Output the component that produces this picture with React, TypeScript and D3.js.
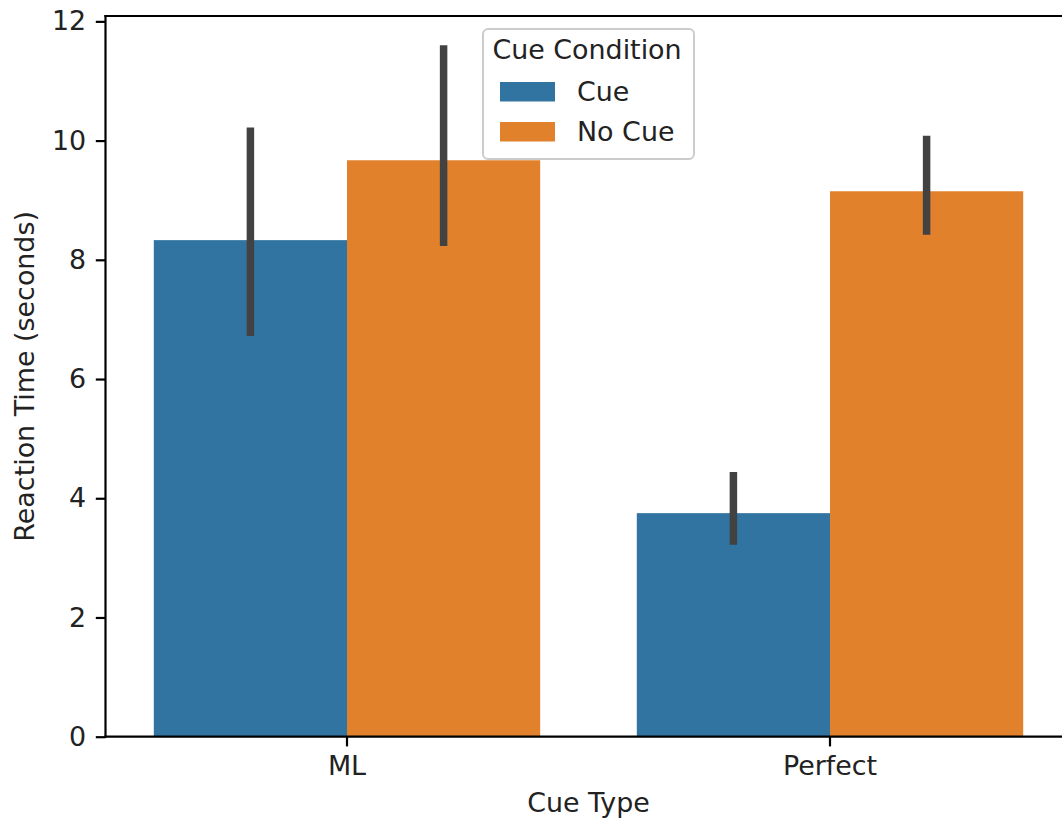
import React, { useEffect, useRef } from 'react';
import * as d3 from 'd3';

// data
const cueTypes = ['ML', 'Perfect'];
const cueConditions = ['Cue', 'No Cue'];
const meanCue = [8.33, 3.75];
const meanNoCue = [9.67, 9.15];
const ciLowCue = [6.72, 3.22];
const ciHighCue = [10.22, 4.44];
const ciLowNoCue = [8.23, 8.42];
const ciHighNoCue = [11.6, 10.08];
const yTicks = [0, 2, 4, 6, 8, 10, 12];

const colors = ['#3274a1', '#e1812c'];
const font = '"DejaVu Sans", sans-serif';

export default function App() {
	const ref = useRef<SVGSVGElement | null>(null);

	useEffect(() => {
		const width = 1062,
			height = 819;
		const margin = { top: 16, left: 105.5, right: 1071.5, bottom: 736.7 };

		const svg = d3.select(ref.current).attr('width', width).attr('height', height);
		svg.selectAll('*').remove();

		const rows = cueTypes.map((t, i) => ({
			type: t,
			values: [
				{ cond: cueConditions[0], mean: meanCue[i], lo: ciLowCue[i], hi: ciHighCue[i] },
				{ cond: cueConditions[1], mean: meanNoCue[i], lo: ciLowNoCue[i], hi: ciHighNoCue[i] },
			],
		}));

		const x = d3
			.scaleBand()
			.domain(cueTypes)
			.range([margin.left, margin.right])
			.paddingInner(0.2)
			.paddingOuter(0.1);
		const xHue = d3.scaleBand().domain(cueConditions).range([0, x.bandwidth()]);
		const y = d3.scaleLinear().domain([0, 12.09]).range([margin.bottom, margin.top]);
		const color = d3.scaleOrdinal<string>().domain(cueConditions).range(colors);

		// bars
		const groups = svg
			.append('g')
			.selectAll('g')
			.data(rows)
			.join('g')
			.attr('transform', (d) => `translate(${x(d.type)},0)`);

		groups
			.selectAll('rect')
			.data((d) => d.values)
			.join('rect')
			.attr('x', (d) => xHue(d.cond)!)
			.attr('width', xHue.bandwidth())
			.attr('y', (d) => y(d.mean))
			.attr('height', (d) => y(0) - y(d.mean))
			.attr('fill', (d) => color(d.cond));

		// error bars
		groups
			.selectAll('line.err')
			.data((d) => d.values)
			.join('line')
			.attr('class', 'err')
			.attr('x1', (d) => xHue(d.cond)! + xHue.bandwidth() / 2)
			.attr('x2', (d) => xHue(d.cond)! + xHue.bandwidth() / 2)
			.attr('y1', (d) => y(d.lo))
			.attr('y2', (d) => y(d.hi))
			.attr('stroke', '#424242')
			.attr('stroke-width', 7.5);

		// axes
		const yAxis = svg
			.append('g')
			.attr('transform', `translate(${margin.left},0)`)
			.call(d3.axisLeft(y).tickValues(yTicks).tickSize(9.7).tickPadding(9.7).tickFormat(d3.format('d')));
		const xAxis = svg
			.append('g')
			.attr('transform', `translate(0,${margin.bottom})`)
			.call(d3.axisBottom(x).tickSize(9.7).tickPadding(9.7));

		[yAxis, xAxis].forEach((a) => {
			a.select('.domain').remove();
			a.selectAll('line').attr('stroke', '#000').attr('stroke-width', 2.2);
			a.selectAll('text').attr('fill', '#222').style('font', `26.9px ${font}`);
		});

		// spines
		const spine = svg.append('g').attr('stroke', '#000').attr('stroke-width', 2.2).attr('fill', 'none');
		spine.append('line').attr('x1', margin.left).attr('x2', margin.left).attr('y1', margin.top).attr('y2', margin.bottom).attr('stroke-linecap', 'square');
		spine.append('line').attr('x1', margin.left).attr('x2', margin.right).attr('y1', margin.bottom).attr('y2', margin.bottom).attr('stroke-linecap', 'square');
		spine.append('line').attr('x1', margin.left).attr('x2', margin.right).attr('y1', margin.top).attr('y2', margin.top).attr('stroke-linecap', 'square');
		spine.append('line').attr('x1', margin.right).attr('x2', margin.right).attr('y1', margin.top).attr('y2', margin.bottom);

		// axis labels
		svg
			.append('text')
			.attr('x', (margin.left + margin.right) / 2)
			.attr('y', 812)
			.attr('text-anchor', 'middle')
			.attr('fill', '#222')
			.style('font', `26.9px ${font}`)
			.text('Cue Type');
		svg
			.append('text')
			.attr('transform', `translate(34,${(margin.top + margin.bottom) / 2}) rotate(-90)`)
			.attr('text-anchor', 'middle')
			.attr('fill', '#222')
			.style('font', `26.9px ${font}`)
			.text('Reaction Time (seconds)');

		// legend
		const lg = svg.append('g').attr('transform', 'translate(483,29)');
		lg.append('rect')
			.attr('width', 211)
			.attr('height', 130)
			.attr('rx', 5)
			.attr('fill', '#fff')
			.attr('fill-opacity', 0.8)
			.attr('stroke', '#cccccc')
			.attr('stroke-width', 2);
		lg.append('text')
			.attr('x', 104)
			.attr('y', 30)
			.attr('text-anchor', 'middle')
			.attr('fill', '#222')
			.style('font', `26.9px ${font}`)
			.text('Cue Condition');
		const item = lg
			.selectAll('g.item')
			.data(cueConditions)
			.join('g')
			.attr('class', 'item')
			.attr('transform', (d, i) => `translate(0,${53 + i * 40})`);
		item.append('rect').attr('x', 17).attr('width', 55).attr('height', 19.5).attr('fill', (d) => color(d));
		item
			.append('text')
			.attr('x', 94)
			.attr('y', 19)
			.attr('fill', '#222')
			.style('font', `26.9px ${font}`)
			.text((d) => d);
	}, []);

	return (
		<div style={{ position: 'absolute', left: 0, top: 0, background: '#fff' }}>
			<svg ref={ref} style={{ display: 'block' }}></svg>
		</div>
	);
}
